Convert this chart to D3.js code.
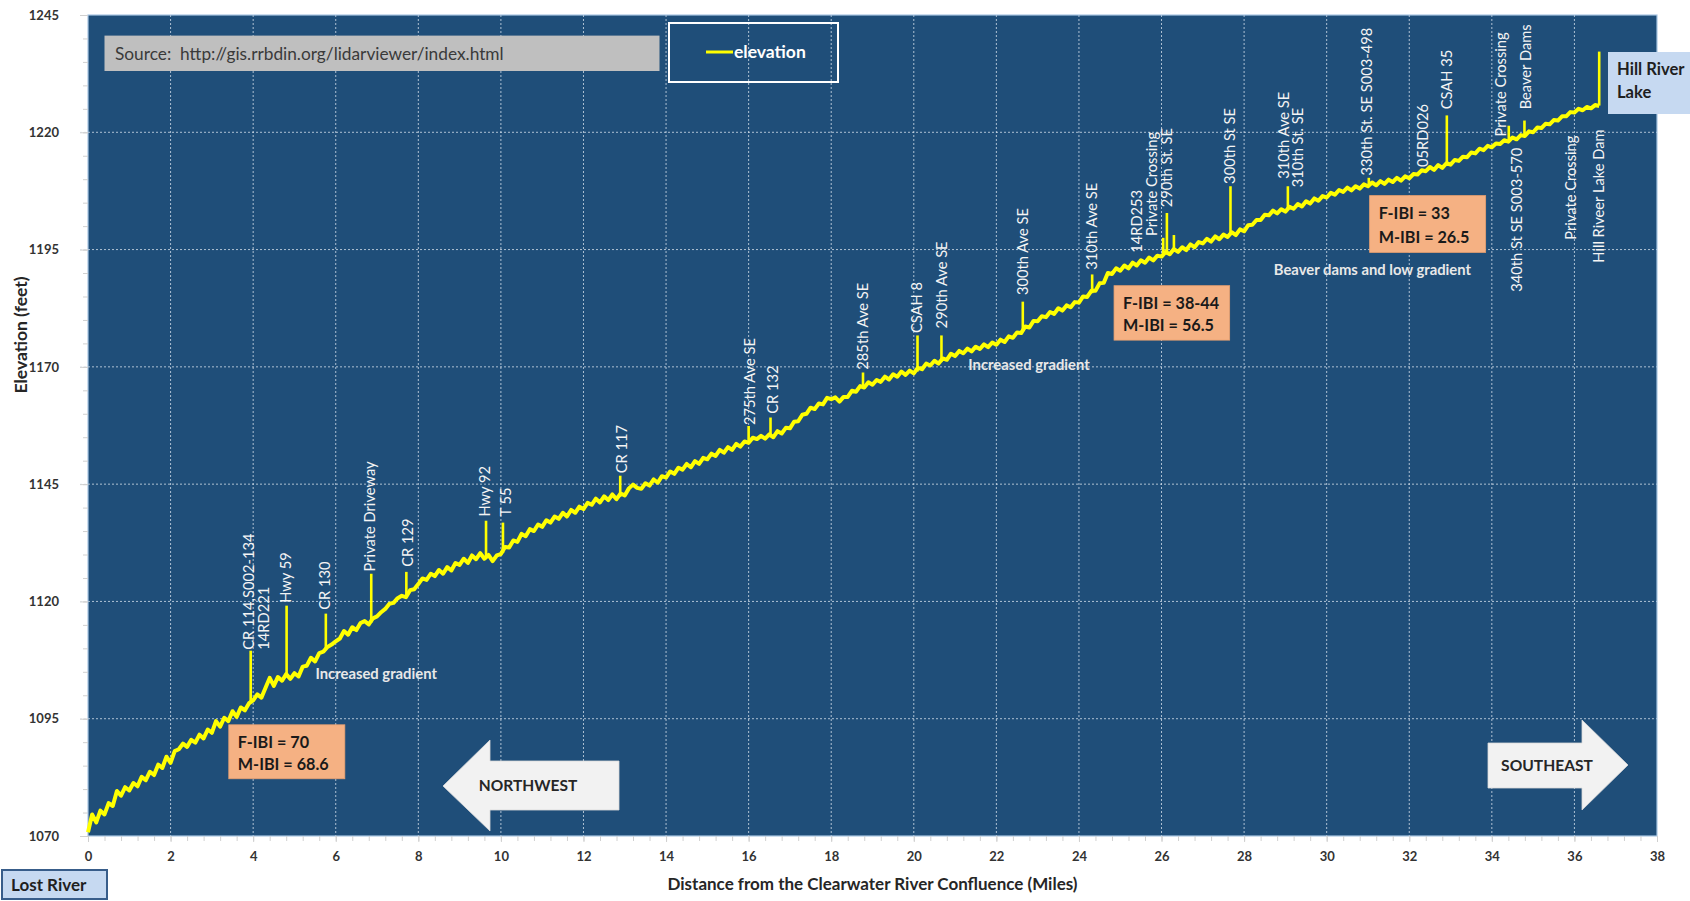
<!DOCTYPE html>
<html><head><meta charset="utf-8">
<script src="https://cdn.jsdelivr.net/npm/d3@7/dist/d3.min.js"></script>
<style>html,body{margin:0;padding:0;background:#fff;}svg{display:block;font-family:Lato,'Open Sans',sans-serif;}</style>
</head><body><svg id="chart" width="1690" height="901"></svg>
<script>
// ---------------- DATA ----------------
const sampleStart = 0, sampleStep = 0.1;   // miles of the first lidar sample, spacing in miles
const elevation = [
1070.8,1074.6,1072.9,1075.4,1074.6,1077.0,1076.4,1079.6,1078.6,1080.4,
1079.7,1081.3,1080.6,1082.6,1081.9,1083.7,1083.0,1085.2,1084.5,1086.9,
1085.6,1088.1,1088.5,1089.7,1089.0,1090.5,1089.9,1091.6,1090.8,1092.7,
1092.0,1094.5,1093.3,1095.2,1094.5,1096.6,1095.4,1097.4,1096.8,1098.3,
1098.9,1100.2,1099.5,1101.6,1103.7,1102.0,1103.9,1103.1,1104.5,1103.5,
1104.7,1104.0,1106.1,1106.3,1108.0,1107.2,1109.0,1109.3,1110.3,1110.8,
1111.5,1112.1,1113.7,1112.9,1114.5,1113.9,1115.4,1115.8,1115.1,1116.4,
1116.8,1117.7,1118.4,1119.5,1119.7,1120.7,1121.2,1120.9,1122.4,1122.6,
1123.7,1124.9,1124.6,1125.9,1125.4,1126.7,1125.9,1127.3,1126.6,1128.2,
1127.8,1129.1,1128.2,1129.8,1129.0,1130.3,1129.1,1129.9,1128.6,1129.8,
1130.1,1131.6,1131.5,1133.0,1132.7,1134.4,1133.9,1135.4,1135.0,1136.4,
1135.9,1137.3,1136.8,1138.1,1137.6,1138.9,1138.1,1139.5,1138.9,1140.2,
1139.7,1141.0,1140.6,1141.9,1141.1,1142.4,1141.6,1142.8,1141.8,1143.0,
1142.6,1144.1,1144.9,1144.2,1144.0,1145.2,1144.7,1146.0,1145.3,1146.7,
1146.4,1147.7,1147.2,1148.5,1148.1,1149.3,1148.6,1149.9,1149.3,1150.6,
1150.3,1151.5,1151.0,1152.3,1151.7,1152.9,1152.3,1153.6,1153.0,1154.1,
1153.8,1154.9,1154.6,1155.3,1154.7,1155.6,1155.0,1156.3,1155.8,1157.0,
1156.9,1158.3,1158.4,1159.8,1160.0,1161.3,1161.0,1162.2,1162.0,1163.4,
1163.1,1163.5,1162.6,1163.6,1163.6,1164.9,1164.7,1165.9,1165.6,1166.7,
1166.2,1167.2,1166.8,1167.9,1167.3,1168.4,1167.9,1169.0,1168.3,1169.2,
1168.6,1169.8,1169.5,1170.7,1170.3,1171.3,1170.7,1171.8,1171.5,1172.8,
1172.3,1173.4,1172.9,1173.9,1173.3,1174.3,1173.8,1174.8,1174.2,1175.2,
1174.7,1175.8,1175.3,1176.5,1176.2,1177.3,1177.2,1178.6,1178.4,1179.8,
1179.7,1180.8,1180.6,1181.7,1181.3,1182.5,1182.0,1183.1,1182.7,1183.8,
1183.7,1185.0,1184.9,1186.2,1186.2,1187.8,1187.9,1190.0,1189.8,1191.0,
1190.5,1191.6,1191.0,1192.2,1191.6,1192.7,1192.2,1193.3,1192.7,1193.7,
1193.5,1194.5,1194.0,1195.1,1194.5,1195.5,1194.9,1196.1,1195.5,1196.6,
1196.3,1197.3,1196.7,1197.8,1197.2,1198.2,1197.7,1198.7,1198.1,1199.3,
1198.9,1200.2,1200.3,1201.3,1201.3,1202.4,1202.3,1203.3,1202.7,1203.6,
1203.1,1204.1,1203.7,1204.7,1204.2,1205.3,1204.8,1205.9,1205.4,1206.4,
1206.1,1207.1,1206.7,1207.7,1207.3,1208.2,1207.6,1208.5,1208.0,1208.9,
1208.5,1209.3,1208.7,1209.6,1209.0,1209.9,1209.4,1210.3,1209.7,1210.6,
1210.2,1211.1,1211.0,1211.9,1211.7,1212.6,1212.0,1213.0,1212.4,1213.4,
1213.1,1214.1,1213.9,1214.8,1214.7,1215.7,1215.5,1216.5,1216.2,1217.1,
1216.8,1217.6,1217.5,1218.3,1218.0,1218.9,1218.5,1219.4,1219.2,1220.2,
1220.0,1221.0,1220.9,1221.8,1221.7,1222.6,1222.5,1223.4,1223.4,1224.3,
1224.2,1225.0,1224.7,1225.4,1225.1,1225.8,1225.6
];
// road / dam crossings: spikes in the lidar profile
const crossingMiles = [3.94,4.81,5.76,6.86,7.71,9.64,10.05,12.89,16.0,16.53,18.77,20.09,20.67,22.64,24.32,26.04,26.13,26.3,27.67,29.06,31.02,32.91,34.41,34.79,36.6];
const crossingBase  = [1098.5,1104.0,1109.8,1115.5,1120.8,1129.4,1130.3,1142.3,1154.0,1155.0,1165.8,1169.0,1171.1,1177.5,1185.7,1193.9,1194.0,1194.5,1198.1,1203.5,1208.8,1213.0,1218.2,1219.4,1225.7];
const crossingTop   = [1109.5,1119.1,1117.4,1125.9,1126.3,1137.2,1136.8,1146.8,1157.4,1159.2,1168.8,1176.7,1176.7,1183.9,1189.7,1197.5,1202.8,1198.1,1208.5,1208.5,1210.3,1223.6,1221.4,1222.5,1237.2];
// crossing names (rotated labels): name, mile, elevation at which the text starts
const labelNames = ["CR 114,S002-134","14RD221","Hwy 59","CR 130","Private Driveway","CR 129","Hwy 92","T 55","CR 117","275th Ave SE","CR 132","285th Ave SE","CSAH 8","290th Ave SE","300th Ave SE","310th Ave SE","14RD253","Private Crossing","290th St. SE","300th St SE","310th Ave SE","310th St. SE","330th St. SE S003-498","05RD026","CSAH 35","Private Crossing","Beaver Dams","340th St SE S003-570","Private Crossing","Hill Riveer Lake Dam"];
const labelMiles = [3.88,4.26,4.78,5.74,6.82,7.75,9.61,10.11,12.92,16.02,16.58,18.76,20.08,20.68,22.64,24.31,25.4,25.76,26.13,27.65,28.97,29.31,30.97,32.32,32.91,34.21,34.82,34.61,35.91,36.59];
const labelElev  = [1109.7,1109.7,1119.7,1118.2,1126.4,1127.4,1138.1,1138.1,1147.3,1157.6,1160.0,1169.4,1177.2,1178.2,1185.3,1190.7,1194.3,1197.9,1204.0,1209.0,1210.1,1208.3,1210.8,1212.6,1224.9,1219.1,1224.9,1186.0,1197.1,1192.2];
// IBI scores
const ibiLines = [["F-IBI = 70","M-IBI = 68.6"],["F-IBI = 38-44","M-IBI = 56.5"],["F-IBI = 33","M-IBI = 26.5"]];
const gradientNotes = ["Increased gradient","Increased gradient","Beaver dams and low gradient"];
const xTicks = [0,2,4,6,8,10,12,14,16,18,20,22,24,26,28,30,32,34,36,38];
const yTicks = [1070,1095,1120,1145,1170,1195,1220,1245];

// ---------------- LAYOUT ----------------
const svg = d3.select("#chart");
const P = {left:88,right:1657,top:15,bottom:836};
const x = d3.scaleLinear().domain([0,38]).range([P.left,P.right]);
const y = d3.scaleLinear().domain([1070,1245]).range([P.bottom,P.top]);
const BG = "#1f4e79";

svg.append("rect").attr("x",P.left).attr("y",P.top).attr("width",P.right-P.left).attr("height",P.bottom-P.top)
  .attr("fill",BG);

// gridlines
const grid = svg.append("g");
grid.selectAll(".vg").data(xTicks.filter(d=>d>0&&d<38)).join("line")
  .attr("x1",d=>x(d)).attr("x2",d=>x(d)).attr("y1",P.top).attr("y2",P.bottom)
  .attr("stroke","#dfe8f2").attr("stroke-width",1).attr("stroke-dasharray","2,2").attr("opacity",0.75);
grid.selectAll(".hg").data(yTicks.filter(d=>d>1070&&d<1245)).join("line")
  .attr("x1",P.left-8).attr("x2",P.right).attr("y1",d=>y(d)).attr("y2",d=>y(d))
  .attr("stroke","#dfe8f2").attr("stroke-width",1).attr("stroke-dasharray","2,2").attr("opacity",0.75);

// plot border
svg.append("rect").attr("x",P.left).attr("y",P.top).attr("width",P.right-P.left).attr("height",P.bottom-P.top)
  .attr("fill","none").attr("stroke","#a9c6e3").attr("stroke-width",1.2);

// axes
const axisStyle = g => {
  g.select(".domain").remove();
  g.selectAll(".tick line").attr("stroke","#d0d0d0");
  g.selectAll(".tick text").attr("fill","#333").attr("font-size",13).attr("font-weight",700).attr("font-family","Lato,sans-serif");
};
svg.append("g").attr("transform",`translate(${P.left},0)`)
  .call(d3.axisLeft(y).tickValues(d3.range(1070,1246,5)).tickSize(5).tickFormat("")).call(axisStyle);
svg.append("g").attr("transform",`translate(${P.left},0)`)
  .call(d3.axisLeft(y).tickValues(yTicks).tickSize(8).tickPadding(21).tickFormat(d3.format("d"))).call(axisStyle);
svg.append("g").attr("transform",`translate(0,${P.bottom})`)
  .call(d3.axisBottom(x).tickValues(d3.range(0,38.01,0.4)).tickSize(5).tickFormat("")).call(axisStyle);
svg.append("g").attr("transform",`translate(0,${P.bottom})`)
  .call(d3.axisBottom(x).tickValues(xTicks).tickSize(6).tickPadding(10).tickFormat(d3.format("d"))).call(axisStyle);

svg.append("text").attr("x",(P.left+P.right)/2).attr("y",884).attr("dy","0.35em").attr("text-anchor","middle")
  .attr("font-size",17).attr("font-weight",700).attr("fill","#262626")
  .text("Distance from the Clearwater River Confluence (Miles)");
svg.append("text").attr("transform","translate(21,335) rotate(-90)").attr("dy","0.35em").attr("text-anchor","middle")
  .attr("font-size",17.5).attr("font-weight",700).attr("fill","#262626").text("Elevation (feet)");

// elevation line
const pts = elevation.map((e,i)=>[sampleStart+i*sampleStep,e]);
const line = d3.line().x(d=>x(d[0])).y(d=>y(d[1]));
svg.append("path").datum(pts).attr("d",line).attr("fill","none").attr("stroke","#ffff00")
  .attr("stroke-width",4).attr("stroke-linejoin","round");
svg.append("g").selectAll("line").data(crossingMiles).join("line")
  .attr("x1",d=>x(d)).attr("x2",d=>x(d))
  .attr("y1",(d,i)=>y(crossingBase[i])).attr("y2",(d,i)=>y(crossingTop[i]))
  .attr("stroke","#ffff00").attr("stroke-width",2.6);

// crossing labels
svg.append("g").selectAll("text").data(labelNames).join("text")
  .attr("transform",(d,i)=>`translate(${x(labelMiles[i])},${y(labelElev[i])}) rotate(-90)`)
  .attr("dy","0.36em").attr("font-size",14.7).attr("fill","#f4f4f4").text(d=>d);

// gradient notes
const noteMiles=[5.51,21.32,28.72], noteElev=[1104.6,1170.4,1190.7];
svg.append("g").selectAll("text").data(gradientNotes).join("text")
  .attr("x",(d,i)=>x(noteMiles[i])).attr("y",(d,i)=>y(noteElev[i])).attr("dy","0.35em")
  .attr("font-size",14.8).attr("font-weight",700).attr("fill","#e8e8e8").text(d=>d);

// IBI boxes
const ibiBox = [[3.41,6.22,1093.7,1082.2],[24.85,27.65,1187.3,1175.7],[31.04,33.85,1206.5,1194.4]];
ibiLines.forEach((lines,i)=>{
  const b=ibiBox[i];
  const g=svg.append("g");
  g.append("rect").attr("x",x(b[0])).attr("y",y(b[2])).attr("width",x(b[1])-x(b[0])).attr("height",y(b[3])-y(b[2]))
   .attr("fill","#f5b183").attr("stroke","#e8a070").attr("stroke-width",0.8);
  const h=y(b[3])-y(b[2]);
  lines.forEach((t,j)=>g.append("text").attr("x",x(b[0])+9).attr("y",y(b[2])+h*(j===0?0.32:0.73)).attr("dy","0.35em")
    .attr("font-size",16.2).attr("font-weight",700).attr("fill","#1a1a1a").text(t));
});

// source box
svg.append("rect").attr("x",104.5).attr("y",35.6).attr("width",555).attr("height",35.4).attr("fill","#bfbfbf");
svg.append("text").attr("x",115).attr("y",53.5).attr("dy","0.35em").attr("font-size",17.3).attr("fill","#3a3a3a")
  .attr("xml:space","preserve").text("Source:  http://gis.rrbdin.org/lidarviewer/index.html");

// legend
svg.append("rect").attr("x",669).attr("y",23).attr("width",169).attr("height",59).attr("fill","none")
  .attr("stroke","#ffffff").attr("stroke-width",2);
svg.append("line").attr("x1",706).attr("x2",733).attr("y1",52).attr("y2",52).attr("stroke","#ffff00").attr("stroke-width",3);
svg.append("text").attr("x",734).attr("y",52).attr("dy","0.35em").attr("font-size",17.5).attr("font-weight",700)
  .attr("fill","#ffffff").text("elevation");

// direction arrows
svg.append("path").attr("d","M443,786 L490,740 L490,761 L619,761 L619,810 L490,810 L490,831 Z")
  .attr("fill","#f2f2f2").attr("stroke","#d9d9d9").attr("stroke-width",0.8);
svg.append("text").attr("x",528).attr("y",786).attr("dy","0.35em").attr("text-anchor","middle")
  .attr("font-size",15.5).attr("font-weight",700).attr("fill","#262626").text("NORTHWEST");
svg.append("path").attr("d","M1488,743 L1582,743 L1582,720 L1628,765 L1582,810 L1582,788 L1488,788 Z")
  .attr("fill","#f2f2f2").attr("stroke","#d9d9d9").attr("stroke-width",0.8);
svg.append("text").attr("x",1547).attr("y",766).attr("dy","0.35em").attr("text-anchor","middle")
  .attr("font-size",15.6).attr("font-weight",700).attr("fill","#262626").text("SOUTHEAST");

// end labels
svg.append("rect").attr("x",1608).attr("y",52).attr("width",84).attr("height",62).attr("fill","#c6d9f1");
svg.append("text").attr("x",1617).attr("y",69).attr("dy","0.35em").attr("font-size",16.6).attr("font-weight",700).attr("fill","#1f1f1f").text("Hill River");
svg.append("text").attr("x",1617).attr("y",92).attr("dy","0.35em").attr("font-size",16.6).attr("font-weight",700).attr("fill","#1f1f1f").text("Lake");
svg.append("rect").attr("x",2).attr("y",870).attr("width",105).attr("height",29).attr("fill","#c6d9f1")
  .attr("stroke","#385d8a").attr("stroke-width",2);
svg.append("text").attr("x",11).attr("y",885).attr("dy","0.35em").attr("font-size",17).attr("font-weight",700).attr("fill","#1f1f1f").text("Lost River");
</script></body></html>
